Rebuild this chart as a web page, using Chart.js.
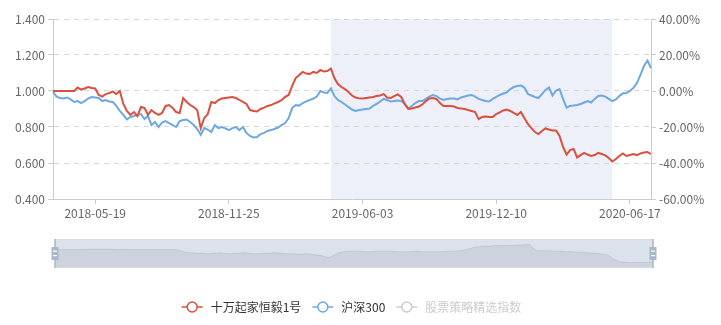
<!DOCTYPE html>
<html>
<head>
<meta charset="utf-8">
<script src="https://cdn.jsdelivr.net/npm/chart.js"></script>
<style>
  body { margin: 0; background: #fff; }
  #wrap { position: relative; width: 721px; height: 325px; }
  #mainChart { position: absolute; left: 0; top: 0; }
  #sliderChart { position: absolute; left: 45px; top: 235px; }
</style>
</head>
<body>
<div id="wrap">
  <canvas id="mainChart" width="721" height="325"></canvas>
  <canvas id="sliderChart" width="618" height="37"></canvas>
</div>
<script>
// daily net value, sampled every 5 calendar days from startDate
const startDate = '2018-03-20';
const stepDays = 5;
const seriesNames = ['十万起家恒毅1号', '沪深300', '股票策略精选指数'];
const tickLabels = ['2018-05-19', '2018-11-25', '2019-06-03', '2019-12-10', '2020-06-17'];
const shadeRange = ['2019-04-19', '2020-05-23'];

const fundValues = [
  1.000, 1.000, 1.000, 1.000, 1.000, 1.000, 1.000, 1.019, 1.008, 1.014,
  1.022, 1.017, 1.014, 0.978, 0.969, 0.983, 0.989, 0.997, 0.983, 1.000,
  0.928, 0.889, 0.867, 0.883, 0.861, 0.911, 0.906, 0.867, 0.894, 0.878,
  0.867, 0.878, 0.917, 0.922, 0.906, 0.883, 0.878, 0.961, 0.939, 0.922,
  0.911, 0.894, 0.794, 0.850, 0.872, 0.939, 0.933, 0.950, 0.958, 0.961,
  0.964, 0.967, 0.961, 0.950, 0.939, 0.928, 0.894, 0.889, 0.886, 0.900,
  0.908, 0.917, 0.922, 0.931, 0.939, 0.950, 0.967, 0.978, 1.028, 1.072,
  1.089, 1.106, 1.097, 1.094, 1.106, 1.100, 1.117, 1.108, 1.111, 1.125,
  1.072, 1.039, 1.022, 1.011, 0.994, 0.975, 0.964, 0.959, 0.958, 0.961,
  0.964, 0.967, 0.972, 0.975, 0.983, 0.964, 0.961, 0.972, 0.981, 0.967,
  0.928, 0.900, 0.903, 0.908, 0.914, 0.925, 0.944, 0.958, 0.961, 0.956,
  0.933, 0.917, 0.917, 0.917, 0.914, 0.906, 0.903, 0.900, 0.894, 0.889,
  0.883, 0.844, 0.856, 0.858, 0.856, 0.856, 0.872, 0.881, 0.892, 0.897,
  0.889, 0.878, 0.867, 0.883, 0.850, 0.817, 0.794, 0.772, 0.761, 0.778,
  0.792, 0.786, 0.781, 0.781, 0.750, 0.689, 0.647, 0.672, 0.678, 0.631,
  0.644, 0.656, 0.647, 0.639, 0.644, 0.656, 0.650, 0.642, 0.628, 0.608,
  0.622, 0.639, 0.653, 0.639, 0.644, 0.650, 0.644, 0.653, 0.658, 0.661, 0.650
];

const hs300Values = [
  0.996, 0.969, 0.961, 0.958, 0.964, 0.953, 0.939, 0.944, 0.933, 0.944,
  0.958, 0.967, 0.964, 0.961, 0.944, 0.950, 0.942, 0.939, 0.917, 0.889,
  0.867, 0.842, 0.856, 0.861, 0.867, 0.872, 0.844, 0.861, 0.811, 0.828,
  0.800, 0.825, 0.833, 0.822, 0.811, 0.800, 0.833, 0.839, 0.842, 0.828,
  0.811, 0.789, 0.756, 0.794, 0.786, 0.772, 0.811, 0.794, 0.800, 0.792,
  0.783, 0.794, 0.800, 0.783, 0.800, 0.767, 0.750, 0.742, 0.744, 0.761,
  0.767, 0.778, 0.783, 0.789, 0.797, 0.811, 0.822, 0.850, 0.906, 0.922,
  0.919, 0.933, 0.942, 0.950, 0.958, 0.969, 1.000, 0.992, 0.989, 1.014,
  0.972, 0.950, 0.939, 0.925, 0.911, 0.897, 0.889, 0.894, 0.897, 0.900,
  0.903, 0.917, 0.928, 0.942, 0.956, 0.950, 0.942, 0.944, 0.947, 0.944,
  0.928, 0.903, 0.917, 0.933, 0.944, 0.944, 0.956, 0.969, 0.978, 0.972,
  0.958, 0.950, 0.956, 0.958, 0.958, 0.953, 0.964, 0.969, 0.975, 0.978,
  0.969, 0.956, 0.950, 0.944, 0.942, 0.956, 0.967, 0.978, 0.986, 0.992,
  1.011, 1.022, 1.028, 1.031, 1.019, 0.983, 0.975, 0.967, 0.961, 0.983,
  1.006, 1.019, 0.975, 1.003, 1.011, 0.956, 0.908, 0.917, 0.919, 0.922,
  0.928, 0.936, 0.944, 0.936, 0.956, 0.972, 0.975, 0.969, 0.956, 0.944,
  0.953, 0.972, 0.987, 0.989, 1.000, 1.017, 1.044, 1.089, 1.139, 1.169, 1.128
];

// hidden in the chart, only visible as the slider shadow
const indexValues = [
  1.00, 1.00, 1.00, 1.00, 1.00, 1.00, 1.00, 1.00, 1.00, 1.00,
  1.01, 1.01, 1.01, 1.01, 1.01, 1.01, 1.01, 1.00, 1.00, 1.00,
  1.00, 1.00, 1.00, 1.00, 1.00, 1.00, 1.00, 1.00, 1.00, 1.00,
  1.00, 1.00, 1.00, 1.00, 1.00, 0.99, 0.97, 0.95, 0.94, 0.94,
  0.93, 0.93, 0.93, 0.92, 0.92, 0.93, 0.93, 0.94, 0.93, 0.92,
  0.92, 0.93, 0.93, 0.94, 0.94, 0.93, 0.92, 0.92, 0.92, 0.93,
  0.93, 0.93, 0.94, 0.94, 0.93, 0.93, 0.92, 0.92, 0.92, 0.91,
  0.91, 0.92, 0.92, 0.91, 0.90, 0.89, 0.88, 0.86, 0.85, 0.88,
  0.92, 0.95, 0.96, 0.97, 0.97, 0.97, 0.97, 0.97, 0.96, 0.96,
  0.96, 0.97, 0.97, 0.97, 0.97, 0.97, 0.97, 0.96, 0.96, 0.96,
  0.96, 0.96, 0.97, 0.97, 0.96, 0.96, 0.96, 0.96, 0.96, 0.96,
  0.96, 0.97, 0.97, 0.97, 0.97, 0.98, 0.99, 1.00, 1.02, 1.04,
  1.05, 1.06, 1.07, 1.07, 1.07, 1.08, 1.08, 1.08, 1.08, 1.08,
  1.08, 1.09, 1.09, 1.09, 1.10, 1.10, 1.02, 0.98, 0.98, 0.98,
  0.98, 0.98, 0.97, 0.97, 0.97, 0.96, 0.96, 0.96, 0.95, 0.95,
  0.95, 0.94, 0.94, 0.93, 0.93, 0.92, 0.91, 0.90, 0.86, 0.81,
  0.78, 0.76, 0.76, 0.75, 0.75, 0.75, 0.75, 0.75, 0.75, 0.76, 0.76
];

const RED = '#d9503f';
const BLUE = '#6ea8e2';
const FONT = '"Microsoft YaHei", "Noto Sans CJK SC", sans-serif';

const dates = fundValues.map(function(_, i) {
    return new Date(Date.parse(startDate) + i * stepDays * 864e5).toISOString().slice(0, 10);
});

Chart.defaults.font.family = FONT;
Chart.defaults.font.size = 12;
Chart.defaults.color = '#666';

// light band behind the lines
const shadePlugin = {
    id: 'shade',
    beforeDraw: function(chart) {
        const area = chart.chartArea;
        const xs = chart.scales.x;
        const x0 = xs.getPixelForValue(dates.indexOf(shadeRange[0]));
        const x1 = xs.getPixelForValue(dates.indexOf(shadeRange[1]));
        chart.ctx.save();
        chart.ctx.fillStyle = '#edf0f8';
        chart.ctx.fillRect(x0, area.top, x1 - x0, area.bottom - area.top);
        chart.ctx.restore();
    }
};

// echarts-like legend: line + hollow circle, hidden series greyed out
const legendPlugin = {
    id: 'bottomLegend',
    afterDraw: function(chart) {
        const ctx = chart.ctx;
        const sets = chart.data.datasets;
        ctx.save();
        ctx.font = '12px ' + FONT;
        const widths = sets.map(function(ds) { return ctx.measureText(ds.label).width; });
        let total = 0;
        widths.forEach(function(w) { total += 30 + w; });
        total += 10 * (sets.length - 1);
        let x = 351 - total / 2;
        const y = 307;
        sets.forEach(function(ds, i) {
            const on = chart.isDatasetVisible(i);
            const c = on ? ds.borderColor : '#ccc';
            ctx.strokeStyle = c;
            ctx.lineWidth = 1.5;
            ctx.beginPath();
            ctx.moveTo(x + 1, y);
            ctx.lineTo(x + 22, y);
            ctx.stroke();
            ctx.beginPath();
            ctx.arc(x + 11.5, y, 5, 0, Math.PI * 2);
            ctx.fillStyle = '#fff';
            ctx.fill();
            ctx.stroke();
            ctx.fillStyle = on ? '#333' : '#ccc';
            ctx.textAlign = 'left';
            ctx.textBaseline = 'middle';
            ctx.fillText(ds.label, x + 30, y);
            x += 30 + widths[i] + 10;
        });
        ctx.restore();
    }
};

new Chart(document.getElementById('mainChart'), {
    type: 'line',
    data: {
        labels: dates,
        datasets: [
            { label: seriesNames[0], data: fundValues, borderColor: RED, borderWidth: 2, pointRadius: 0, yAxisID: 'y' },
            { label: seriesNames[1], data: hs300Values, borderColor: BLUE, borderWidth: 2, pointRadius: 0, yAxisID: 'y' },
            { label: seriesNames[2], data: indexValues, borderColor: '#999', borderWidth: 2, pointRadius: 0, yAxisID: 'y', hidden: true }
        ]
    },
    options: {
        responsive: false,
        animation: false,
        events: [],
        layout: { padding: { left: 0, right: 0, top: 19, bottom: 96 } },
        plugins: { legend: { display: false }, tooltip: { enabled: false } },
        scales: {
            x: {
                offset: false,
                grid: { display: true, drawOnChartArea: false, drawTicks: true, tickLength: 5, color: '#ccc' },
                border: { display: true, color: '#ccc' },
                ticks: { autoSkip: false, maxRotation: 0, padding: 2, color: '#666' },
                afterBuildTicks: function(scale) {
                    scale.ticks = scale.ticks.filter(function(t) { return tickLabels.indexOf(dates[t.value]) >= 0; });
                },
                afterFit: function(scale) { scale.height = 30; }
            },
            y: {
                position: 'left',
                min: 0.4,
                max: 1.4,
                grid: { color: '#d6d6d6', tickColor: '#ccc', tickLength: 5 },
                border: { display: true, color: '#ccc', dash: [5, 5] },
                ticks: { stepSize: 0.2, padding: 3, color: '#666', callback: function(v) { return v.toFixed(3); } },
                afterFit: function(scale) { scale.width = 53; }
            },
            y1: {
                position: 'right',
                min: -60,
                max: 40,
                grid: { drawOnChartArea: false, tickColor: '#ccc', tickLength: 5 },
                border: { display: true, color: '#ccc' },
                ticks: { stepSize: 20, padding: 3, color: '#666', callback: function(v) { return v.toFixed(2) + '%'; } },
                afterFit: function(scale) { scale.width = 70; }
            }
        }
    },
    plugins: [shadePlugin, legendPlugin]
});

// dataZoom-style slider with the shadow of the hidden index
const shadowMin = Math.min.apply(null, indexValues);
const shadowMax = Math.max.apply(null, indexValues);
const shadowPad = (shadowMax - shadowMin) * 0.3;

const sliderFrame = {
    id: 'sliderFrame',
    beforeDraw: function(chart) {
        const a = chart.chartArea;
        const ctx = chart.ctx;
        ctx.save();
        ctx.fillStyle = '#dce2eb';
        ctx.fillRect(a.left, a.top, a.right - a.left, a.bottom - a.top);
        ctx.restore();
    },
    afterDraw: function(chart) {
        const a = chart.chartArea;
        const ctx = chart.ctx;
        const mid = (a.top + a.bottom) / 2;
        ctx.save();
        ctx.strokeStyle = '#d4dae3';
        ctx.lineWidth = 1;
        ctx.strokeRect(a.left + 0.5, a.top + 0.5, a.right - a.left - 1, a.bottom - a.top - 1);
        [a.left, a.right].forEach(function(hx) {
            ctx.fillStyle = '#a7b7cc';
            ctx.fillRect(hx - 0.75, a.top, 1.5, a.bottom - a.top);
            ctx.fillRect(hx - 3.5, mid - 6.5, 7, 13);
            ctx.fillStyle = '#fff';
            ctx.fillRect(hx - 2, mid - 3, 4, 1.2);
            ctx.fillRect(hx - 2, mid + 1.5, 4, 1.2);
        });
        ctx.restore();
    }
};

new Chart(document.getElementById('sliderChart'), {
    type: 'line',
    data: {
        labels: dates,
        datasets: [{
            data: indexValues,
            borderColor: 'rgba(47,69,84,0.22)',
            borderWidth: 0.5,
            backgroundColor: 'rgba(47,69,84,0.09)',
            fill: 'start',
            pointRadius: 0
        }]
    },
    options: {
        responsive: false,
        animation: false,
        events: [],
        layout: { padding: { left: 10, right: 10, top: 4, bottom: 4 } },
        plugins: { legend: { display: false }, tooltip: { enabled: false } },
        scales: {
            x: { display: false },
            y: { display: false, min: shadowMin - shadowPad, max: shadowMax + shadowPad }
        }
    },
    plugins: [sliderFrame]
});
</script>
</body>
</html>
